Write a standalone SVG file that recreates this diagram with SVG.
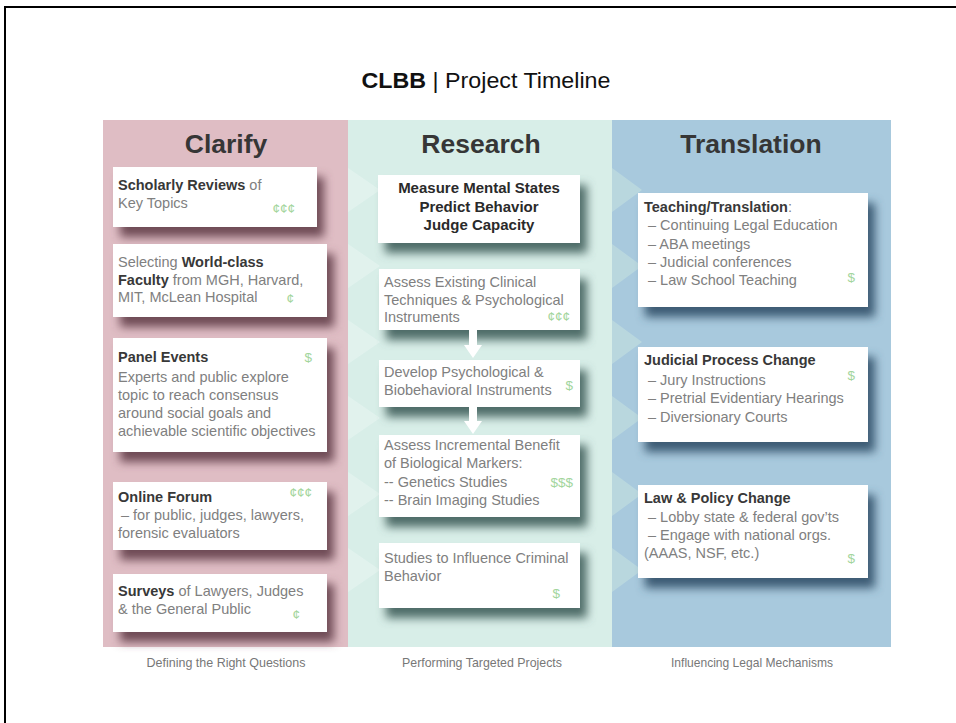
<svg xmlns="http://www.w3.org/2000/svg" width="956" height="723" viewBox="0 0 956 723">
  <style>
    text { font-family: "Liberation Sans", Arial, Helvetica, sans-serif; }
    .title { font-size: 22.5px; fill: #111; }
    .head { font-size: 26.5px; font-weight: bold; fill: #363636; text-anchor: middle; }
    .foot { font-size: 13.5px; fill: #777; text-anchor: middle; }
    .box { fill: #ffffff; }
    .t { font-size: 14.5px; fill: #808080; }
    .b { font-weight: bold; fill: #383838; }
    .ctr { font-size: 15px; font-weight: bold; fill: #2a2a2a; text-anchor: middle; }
    .cost { font-size: 13.5px; fill: #a3d59c; text-anchor: end; }
    .sh-pink { fill: #6f4b56; }
    .sh-mint { fill: #4f6d69; }
    .sh-blue { fill: #3e5c74; }
    .chev-mint { fill: #ffffff; opacity: 0.25; }
    .chev-blue { fill: #cfe9e1; opacity: 0.45; }
  </style>
  <defs>
    <filter id="soft" x="-20%" y="-30%" width="140%" height="170%">
      <feGaussianBlur stdDeviation="5"/>
    </filter>
  </defs>

  <rect width="956" height="723" fill="#ffffff"/>
  <!-- outer frame -->
  <path d="M5,723 V7 H956" fill="none" stroke="#000" stroke-width="2"/>

  <!-- title -->
  <text class="title" x="486" y="88" text-anchor="middle" textLength="249" lengthAdjust="spacingAndGlyphs"><tspan font-weight="bold">CLBB</tspan> | Project Timeline</text>

  <!-- column bands -->
  <rect x="103" y="120" width="246" height="527" fill="#dfbdc4"/>
  <rect x="348" y="120" width="265" height="527" fill="#d8eee8"/>
  <rect x="612" y="120" width="279" height="527" fill="#a8c9dd"/>

  <!-- faint flow chevrons -->
  <g class="chev-mint">
    <polygon points="348,168 380,190 348,212"/>
    <polygon points="348,244 380,266 348,288"/>
    <polygon points="348,320 380,342 348,364"/>
    <polygon points="348,396 380,418 348,440"/>
    <polygon points="348,472 380,494 348,516"/>
    <polygon points="348,548 380,570 348,592"/>
  </g>
  <g class="chev-blue">
    <polygon points="612,168 642,190 612,212"/>
    <polygon points="612,244 642,266 612,288"/>
    <polygon points="612,320 642,342 612,364"/>
    <polygon points="612,396 642,418 612,440"/>
    <polygon points="612,472 642,494 612,516"/>
    <polygon points="612,548 642,570 612,592"/>
  </g>

  <!-- column headings -->
  <text class="head" x="226" y="153">Clarify</text>
  <text class="head" x="481" y="153">Research</text>
  <text class="head" x="751" y="153">Translation</text>

  <!-- Clarify column -->
  <g id="scholarly-reviews">
    <rect class="sh-pink" x="120" y="177" width="204" height="60" filter="url(#soft)"/>
    <rect class="box" x="113" y="167" width="204" height="60"/>
    <text class="t" x="118" y="190"><tspan class="b">Scholarly Reviews</tspan> of</text>
    <text class="t" x="118" y="208">Key Topics</text>
    <text class="cost" x="295" y="213">¢¢¢</text>
  </g>
  <g id="world-class-faculty">
    <rect class="sh-pink" x="120" y="254" width="214" height="73" filter="url(#soft)"/>
    <rect class="box" x="113" y="244" width="214" height="73"/>
    <text class="t" x="118" y="267">Selecting <tspan class="b">World-class</tspan></text>
    <text class="t" x="118" y="285"><tspan class="b">Faculty</tspan> from MGH, Harvard,</text>
    <text class="t" x="118" y="302">MIT, McLean Hospital</text>
    <text class="cost" x="294" y="303">¢</text>
  </g>
  <g id="panel-events">
    <rect class="sh-pink" x="120" y="348" width="214" height="114" filter="url(#soft)"/>
    <rect class="box" x="113" y="338" width="214" height="114"/>
    <text class="t" x="118" y="362"><tspan class="b">Panel Events</tspan></text>
    <text class="t" x="118" y="382">Experts and public explore</text>
    <text class="t" x="118" y="400">topic to reach consensus</text>
    <text class="t" x="118" y="418">around social goals and</text>
    <text class="t" x="118" y="436">achievable scientific objectives</text>
    <text class="cost" x="312" y="362">$</text>
  </g>
  <g id="online-forum">
    <rect class="sh-pink" x="120" y="492" width="214" height="68" filter="url(#soft)"/>
    <rect class="box" x="113" y="482" width="214" height="68"/>
    <text class="t" x="118" y="502"><tspan class="b">Online Forum</tspan></text>
    <text class="t" x="121" y="520">– for public, judges, lawyers,</text>
    <text class="t" x="118" y="538">forensic evaluators</text>
    <text class="cost" x="312" y="497">¢¢¢</text>
  </g>
  <g id="surveys">
    <rect class="sh-pink" x="120" y="584" width="214" height="58" filter="url(#soft)"/>
    <rect class="box" x="113" y="574" width="214" height="58"/>
    <text class="t" x="118" y="596"><tspan class="b">Surveys</tspan> of Lawyers, Judges</text>
    <text class="t" x="118" y="614">&amp; the General Public</text>
    <text class="cost" x="300" y="619">¢</text>
  </g>

  <!-- Research column -->
  <g id="measure">
    <rect class="sh-mint" x="385" y="185" width="202" height="68" filter="url(#soft)"/>
    <rect class="box" x="378" y="175" width="202" height="68"/>
    <text class="ctr" x="479" y="193">Measure Mental States</text>
    <text class="ctr" x="479" y="212">Predict Behavior</text>
    <text class="ctr" x="479" y="230">Judge Capacity</text>
  </g>
  <g id="assess-existing">
    <rect class="sh-mint" x="386" y="279" width="201" height="61" filter="url(#soft)"/>
    <rect class="box" x="379" y="269" width="201" height="61"/>
    <text class="t" x="384" y="287">Assess Existing Clinical</text>
    <text class="t" x="384" y="305">Techniques &amp; Psychological</text>
    <text class="t" x="384" y="322">Instruments</text>
    <text class="cost" x="570" y="321">¢¢¢</text>
  </g>
  <g id="develop">
    <rect class="sh-mint" x="386" y="370" width="201" height="47" filter="url(#soft)"/>
    <rect class="box" x="379" y="360" width="201" height="47"/>
    <text class="t" x="384" y="377">Develop Psychological &amp;</text>
    <text class="t" x="384" y="395">Biobehavioral Instruments</text>
    <text class="cost" x="573" y="390">$</text>
  </g>
  <g id="assess-incremental">
    <rect class="sh-mint" x="386" y="445" width="201" height="82" filter="url(#soft)"/>
    <rect class="box" x="379" y="435" width="201" height="82"/>
    <text class="t" x="384" y="450">Assess Incremental Benefit</text>
    <text class="t" x="384" y="468">of Biological Markers:</text>
    <text class="t" x="384" y="487">-- Genetics Studies</text>
    <text class="t" x="384" y="505">-- Brain Imaging Studies</text>
    <text class="cost" x="573" y="487">$$$</text>
  </g>
  <g id="criminal-behavior">
    <rect class="sh-mint" x="386" y="553" width="201" height="65" filter="url(#soft)"/>
    <rect class="box" x="379" y="543" width="201" height="65"/>
    <text class="t" x="384" y="563">Studies to Influence Criminal</text>
    <text class="t" x="384" y="581">Behavior</text>
    <text class="cost" x="560" y="598">$</text>
  </g>

  <!-- Translation column -->
  <g id="teaching">
    <rect class="sh-blue" x="645" y="203" width="230" height="114" filter="url(#soft)"/>
    <rect class="box" x="638" y="193" width="230" height="114"/>
    <text class="t" x="644" y="212"><tspan class="b">Teaching/Translation</tspan>:</text>
    <text class="t" x="648" y="230">– Continuing Legal Education</text>
    <text class="t" x="648" y="249">– ABA meetings</text>
    <text class="t" x="648" y="267">– Judicial conferences</text>
    <text class="t" x="648" y="285">– Law School Teaching</text>
    <text class="cost" x="855" y="282">$</text>
  </g>
  <g id="judicial-process">
    <rect class="sh-blue" x="645" y="357" width="230" height="95" filter="url(#soft)"/>
    <rect class="box" x="638" y="347" width="230" height="95"/>
    <text class="t" x="644" y="365"><tspan class="b">Judicial Process Change</tspan></text>
    <text class="t" x="648" y="385">– Jury Instructions</text>
    <text class="t" x="648" y="403">– Pretrial Evidentiary Hearings</text>
    <text class="t" x="648" y="422">– Diversionary Courts</text>
    <text class="cost" x="855" y="380">$</text>
  </g>
  <g id="law-policy">
    <rect class="sh-blue" x="645" y="495" width="230" height="93" filter="url(#soft)"/>
    <rect class="box" x="638" y="485" width="230" height="93"/>
    <text class="t" x="644" y="503"><tspan class="b">Law &amp; Policy Change</tspan></text>
    <text class="t" x="648" y="522">– Lobby state &amp; federal gov’ts</text>
    <text class="t" x="648" y="540">– Engage with national orgs.</text>
    <text class="t" x="644" y="558">(AAAS, NSF, etc.)</text>
    <text class="cost" x="855" y="563">$</text>
  </g>

  <!-- connectors: down arrows between research steps -->
  <g id="connectors" fill="#ffffff">
    <polygon points="469,330 477,330 477,345 482,345 473,358 464,345 469,345"/>
    <polygon points="469,407 477,407 477,421 482,421 473,434 464,421 469,421"/>
  </g>

  <!-- phase captions -->
  <text class="foot" x="226" y="667" textLength="159" lengthAdjust="spacingAndGlyphs">Defining the Right Questions</text>
  <text class="foot" x="482" y="667" textLength="160" lengthAdjust="spacingAndGlyphs">Performing Targeted Projects</text>
  <text class="foot" x="752" y="667" textLength="162" lengthAdjust="spacingAndGlyphs">Influencing Legal Mechanisms</text>
</svg>
